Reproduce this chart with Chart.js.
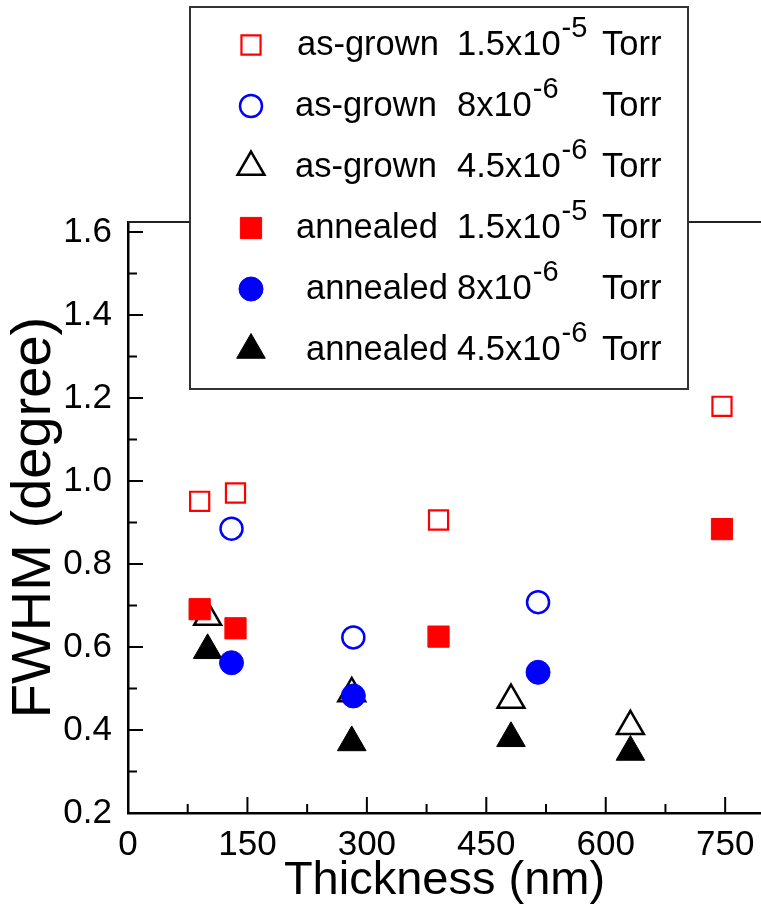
<!DOCTYPE html>
<html>
<head>
<meta charset="utf-8">
<title>FWHM vs thickness</title>
<script src="https://cdn.jsdelivr.net/npm/chart.js@4/dist/chart.umd.min.js"></script>
<style>
  body { margin: 0; background: #fff; overflow: hidden; }
  canvas { display: block; }
</style>
</head>
<body>
<canvas id="fwhmChart" width="761" height="907"></canvas>
<script>
// thickness (nm) / FWHM (degree) per sample set
const asGrown15Thick = [90, 135, 390, 746];
const asGrown15Fwhm = [0.951, 0.971, 0.906, 1.180];
const asGrown8Thick = [130, 283, 515];
const asGrown8Fwhm = [0.885, 0.623, 0.708];
const asGrown45Thick = [100, 281, 481, 631];
const asGrown45Fwhm = [0.672, 0.488, 0.472, 0.409];
const annealed15Thick = [90, 135, 390, 746];
const annealed15Fwhm = [0.691, 0.645, 0.625, 0.884];
const annealed8Thick = [130, 283, 515];
const annealed8Fwhm = [0.562, 0.482, 0.539];
const annealed45Thick = [100, 281, 481, 631];
const annealed45Fwhm = [0.592, 0.370, 0.380, 0.347];

// legend text pieces
const seriesState = ["as-grown", "as-grown", "as-grown", "annealed", "annealed", "annealed"];
const seriesPressure = ["1.5x10", "8x10", "4.5x10", "1.5x10", "8x10", "4.5x10"];
const seriesExponent = ["-5", "-6", "-6", "-5", "-6", "-6"];
const pressureUnit = "Torr";

const xTicks = [0, 150, 300, 450, 600, 750];
const yTicks = [0.2, 0.4, 0.6, 0.8, 1.0, 1.2, 1.4, 1.6];

const FONT = '"Liberation Sans", Arial, sans-serif';

function toPoints(xs, ys) {
	return xs.map((x, i) => ({ x: x, y: ys[i] }));
}

function series(xs, ys, style, color, filled, radius, order) {
	return {
		data: toPoints(xs, ys),
		pointStyle: style,
		pointRadius: radius,
		pointHoverRadius: radius,
		pointBorderColor: color,
		pointBackgroundColor: filled ? color : "#fff",
		pointBorderWidth: filled ? 1 : 2.5,
		showLine: false,
		order: order
	};
}

const datasets = [
	series(asGrown15Thick, asGrown15Fwhm, "rect", "#ff0000", false, 13.5, 2),
	series(asGrown8Thick, asGrown8Fwhm, "circle", "#0000ff", false, 11, 2),
	series(asGrown45Thick, asGrown45Fwhm, "triangle", "#000", false, 15.5, 2),
	series(annealed15Thick, annealed15Fwhm, "rect", "#ff0000", true, 15, 1),
	series(annealed8Thick, annealed8Fwhm, "circle", "#0000ff", true, 12, 1),
	series(annealed45Thick, annealed45Fwhm, "triangle", "#000", true, 16.5, 1)
];
datasets[0].pointBorderWidth = 2.2;

// inward tick marks + top frame line
const frameTicks = {
	id: "frameTicks",
	beforeDatasetsDraw(chart) {
		const ctx = chart.ctx;
		const area = chart.chartArea;
		const xs = chart.scales.x, ys = chart.scales.y;
		ctx.save();
		ctx.strokeStyle = "#000";
		ctx.lineWidth = 2;
		ctx.beginPath();
		for (let i = 0; i < yTicks.length; i++) {
			let py = ys.getPixelForValue(yTicks[i]);
			ctx.moveTo(area.left, py);
			ctx.lineTo(area.left + 15, py);
			if (i < yTicks.length - 1) {
				let pm = ys.getPixelForValue((yTicks[i] + yTicks[i + 1]) / 2);
				ctx.moveTo(area.left, pm);
				ctx.lineTo(area.left + 9, pm);
			}
		}
		for (let i = 0; i < xTicks.length; i++) {
			let px = xs.getPixelForValue(xTicks[i]);
			if (i > 0) {
				ctx.moveTo(px, area.bottom);
				ctx.lineTo(px, area.bottom - 16);
			}
			let pm = xs.getPixelForValue(xTicks[i] + 75);
			ctx.moveTo(pm, area.bottom);
			ctx.lineTo(pm, area.bottom - 9);
		}
		ctx.stroke();

		ctx.strokeStyle = "#222";
		ctx.beginPath();
		ctx.moveTo(area.left, area.top);
		ctx.lineTo(area.right, area.top);
		ctx.stroke();
		ctx.restore();
	}
};

// boxed legend with superscript exponents
const boxLegend = {
	id: "boxLegend",
	afterDraw(chart) {
		const ctx = chart.ctx;
		const box = { left: 190, top: 7, right: 688, bottom: 389 };
		const nameX = [297, 295, 295, 296, 306, 306];
		ctx.save();
		ctx.fillStyle = "#fff";
		ctx.fillRect(box.left, box.top, box.right - box.left, box.bottom - box.top);
		ctx.strokeStyle = "#333";
		ctx.lineWidth = 2;
		ctx.strokeRect(box.left, box.top, box.right - box.left, box.bottom - box.top);

		for (let i = 0; i < datasets.length; i++) {
			let ds = datasets[i];
			let rowY = 45 + i * 61;

			ctx.fillStyle = ds.pointBackgroundColor;
			ctx.strokeStyle = ds.pointBorderColor;
			ctx.lineWidth = ds.pointBorderWidth;
			Chart.helpers.drawPoint(ctx, {
				pointStyle: ds.pointStyle,
				radius: ds.pointRadius,
				borderWidth: ds.pointBorderWidth,
				rotation: 0
			}, 251, rowY);

			let base = rowY + 10;
			ctx.fillStyle = "#000";
			ctx.textBaseline = "alphabetic";
			ctx.textAlign = "left";
			ctx.font = "34.5px " + FONT;
			ctx.fillText(seriesState[i], nameX[i], base);
			ctx.fillText(seriesPressure[i], 457, base);
			let supX = 457 + ctx.measureText(seriesPressure[i]).width + 1;
			ctx.fillText(pressureUnit, 602, base);
			ctx.font = "29px " + FONT;
			ctx.fillText(seriesExponent[i], supX, base - 18);
		}
		ctx.restore();
	}
};

new Chart(document.getElementById("fwhmChart"), {
	type: "scatter",
	data: { datasets: datasets },
	options: {
		responsive: false,
		animation: false,
		events: [],
		layout: { autoPadding: false, padding: { top: 222, right: 0, left: 0, bottom: 0 } },
		plugins: {
			legend: { display: false },
			tooltip: { enabled: false }
		},
		scales: {
			x: {
				type: "linear",
				min: 0,
				max: 795,
				afterBuildTicks: (s) => { s.ticks = xTicks.map(v => ({ value: v })); },
				afterFit: (s) => { s.height = 94; s.paddingRight = 0; s.paddingLeft = 0; },
				grid: { display: false },
				border: { display: true, color: "#000", width: 2.5 },
				ticks: {
					color: "#000",
					font: { family: FONT, size: 35 },
					padding: 3,
					maxRotation: 0,
					autoSkip: false,
					callback: (v) => String(v)
				},
				title: {
					display: true,
					text: "Thickness (nm)",
					color: "#000",
					font: { family: FONT, size: 47 },
					padding: { top: 0, bottom: -2 }
				}
			},
			y: {
				type: "linear",
				min: 0.2,
				max: 1.624,
				afterBuildTicks: (s) => { s.ticks = yTicks.map(v => ({ value: v })); },
				afterFit: (s) => { s.width = 128; s.paddingTop = 0; s.paddingBottom = 0; },
				grid: { display: false },
				border: { display: true, color: "#000", width: 2.5 },
				ticks: {
					color: "#000",
					font: { family: FONT, size: 35 },
					padding: 8,
					callback: (v) => v.toFixed(1)
				},
				title: {
					display: true,
					text: "FWHM (degree)",
					color: "#000",
					font: { family: FONT, size: 56 },
					padding: { top: 1, bottom: 0 }
				}
			}
		}
	},
	plugins: [frameTicks, boxLegend]
});
</script>
</body>
</html>
